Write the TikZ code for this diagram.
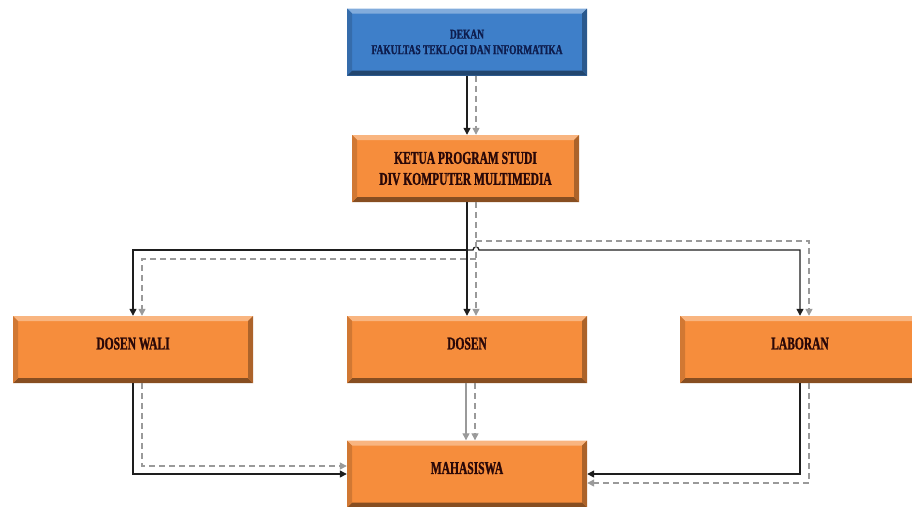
\documentclass[tikz,border=0pt]{standalone}
\usepackage{fontspec}
\setmainfont{Liberation Serif}[FakeStretch=0.64, BoldFeatures={FakeBold=1.2}]
\newfontfamily\deanfont{Liberation Serif}[FakeStretch=0.7, BoldFeatures={FakeBold=1.2}]
\usepackage{tikz}
\usetikzlibrary{arrows.meta,positioning,calc}
\definecolor{unitorange}{HTML}{F68D3C}
\definecolor{unitblue}{HTML}{3E7FC9}
\definecolor{orgtext}{HTML}{2A0808}
\definecolor{deantext}{HTML}{0E1D4E}
\definecolor{lineblack}{HTML}{1E1E1E}
\definecolor{linegray}{HTML}{9A9A9A}

\tikzset{
  bevelbox/.style={rectangle, fill=#1, inner sep=0pt, align=center,
    minimum width=240pt, minimum height=67pt,
    font=\bfseries\fontsize{18}{21}\selectfont, text=orgtext,
    path picture={
      \fill[#1!65!white] (path picture bounding box.north west) -- (path picture bounding box.north east)
        -- ([xshift=-5pt,yshift=-5pt]path picture bounding box.north east)
        -- ([xshift=5pt,yshift=-5pt]path picture bounding box.north west) -- cycle;
      \fill[#1!55!black] (path picture bounding box.south west) -- (path picture bounding box.south east)
        -- ([xshift=-5pt,yshift=5pt]path picture bounding box.south east)
        -- ([xshift=5pt,yshift=5pt]path picture bounding box.south west) -- cycle;
      \fill[#1!70!black] (path picture bounding box.south east) -- (path picture bounding box.north east)
        -- ([xshift=-5pt,yshift=-5pt]path picture bounding box.north east)
        -- ([xshift=-5pt,yshift=5pt]path picture bounding box.south east) -- cycle;
      \fill[#1!85!black] (path picture bounding box.south west) -- (path picture bounding box.north west)
        -- ([xshift=5pt,yshift=-5pt]path picture bounding box.north west)
        -- ([xshift=5pt,yshift=5pt]path picture bounding box.south west) -- cycle;
    }},
  raised/.style={text depth=12pt},
  solidline/.style={draw=lineblack, line width=1.3pt, -{Triangle[length=7pt,width=7pt]}},
  grayline/.style={draw=linegray, line width=1.3pt, -{Triangle[length=7pt,width=7pt]}},
  dashline/.style={draw=linegray, line width=1.3pt, dash pattern=on 6pt off 4pt,
    -{Triangle[length=7pt,width=7pt]}},
}

\begin{document}
\begin{tikzpicture}[x=1pt,y=-1pt]
  \useasboundingbox (0,0) rectangle (912,506);

  % boxes
  \node[bevelbox=unitblue, text=deantext, font=\deanfont\bfseries\fontsize{13.5}{15.5}\selectfont]
    (dekan) at (467,42) {DEKAN\\FAKULTAS TEKLOGI DAN INFORMATIKA};
  \node[bevelbox=unitorange, minimum width=227pt] (ketua) at (465.5,168.5)
    {KETUA PROGRAM STUDI\\DIV KOMPUTER MULTIMEDIA};
  \node[bevelbox=unitorange, raised] (wali) at (133,349.5) {DOSEN WALI};
  \node[bevelbox=unitorange, raised] (dosen) at (467,349.5) {DOSEN};
  \node[bevelbox=unitorange, raised] (lab) at (800,349.5) {LABORAN};
  \node[bevelbox=unitorange, raised] (mhs) at (467,474) {MAHASISWA};

  % junctions
  \coordinate (blackhub) at (467,250);
  \coordinate (hopleft) at (473,250);
  \coordinate (dashright) at (476,241);
  \coordinate (dashleft) at (476,259);

  % dekan -> ketua
  \draw[solidline] (dekan.south) -- (dekan.south |- ketua.north);
  \draw[dashline] ([xshift=9pt]dekan.south) -- ([xshift=9pt]dekan.south |- ketua.north);

  % ketua -> dosen wali, dosen, laboran
  \draw[solidline] (dosen.north |- ketua.south) -- (dosen.north);
  \draw[solidline] (blackhub) -| (wali.north);
  \draw[solidline] (blackhub) -- (hopleft) arc[start angle=180, end angle=0, radius=3pt]
    -| (lab.north);
  \draw[dashline] ([xshift=9pt]dosen.north |- ketua.south) -- ([xshift=9pt]dosen.north);
  \draw[dashline] (dashright) -| ([xshift=9pt]lab.north);
  \draw[dashline] (dashleft) -| ([xshift=9pt]wali.north);

  % to mahasiswa
  \draw[solidline] (wali.south) |- (mhs.west);
  \draw[dashline] ([xshift=9pt]wali.south) |- ([yshift=8pt]mhs.west);
  \draw[grayline] ([xshift=-1pt]dosen.south) -- ([xshift=-1pt]mhs.north);
  \draw[dashline] ([xshift=8pt]dosen.south) -- ([xshift=8pt]mhs.north);
  \draw[solidline] (lab.south) |- (mhs.east);
  \draw[dashline] ([xshift=9pt]lab.south) |- ([yshift=-9pt]mhs.east);
\end{tikzpicture}
\end{document}
